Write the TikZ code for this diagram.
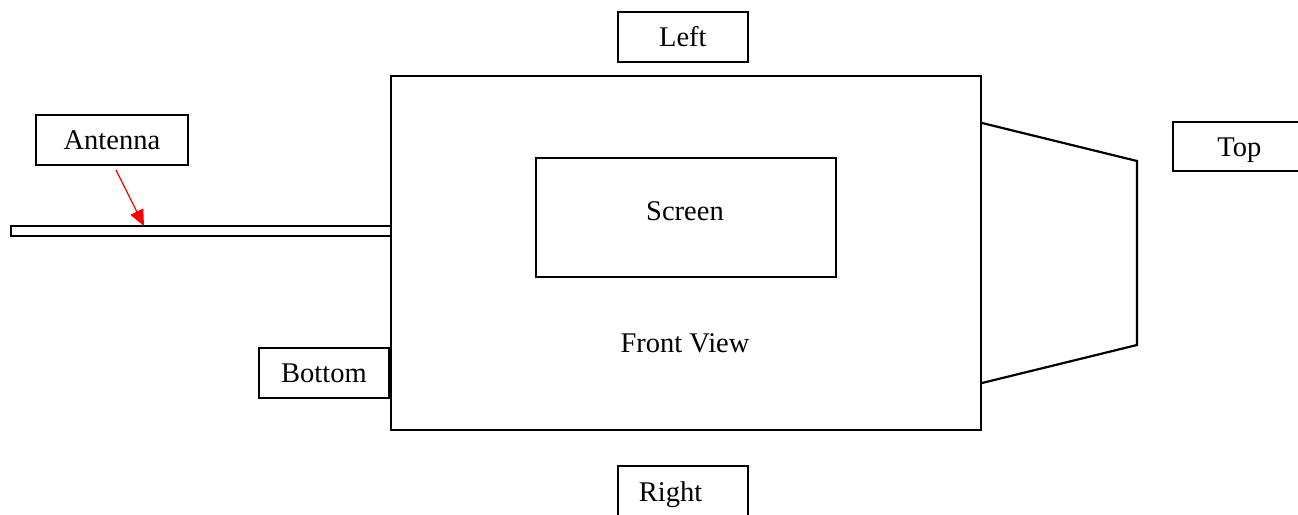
\documentclass[tikz,border=0pt]{standalone}
\usepackage{fontspec}
\setmainfont{Liberation Serif}
\usetikzlibrary{arrows.meta}
\begin{document}
\begin{tikzpicture}[x=1pt,y=-1pt,
  lbl/.style={draw=black, line width=1.8pt, fill=white, inner sep=0pt, text height=23pt, text depth=3pt, font=\fontsize{28.5}{34}\selectfont},
  outline/.style={draw=black, line width=2.2pt},
  txt/.style={inner sep=0pt, font=\fontsize{28.5}{34}\selectfont}]
\useasboundingbox (0,0) rectangle (1298,514);
% main body
\draw[outline] (391,76) rectangle (981,430);
\node[outline, minimum width=300pt, minimum height=119pt, inner sep=0pt, anchor=north west] (screen) at (535,157) {};
\node[txt] (screenlbl) at (685,211) {Screen};
\node[txt] (front) at (685,343) {Front View};
% side part
\draw[outline, line join=miter] (982,123) -- (1137,161) -- (1137,345) -- (982,383);
% antenna bar
\draw[outline] (11,226) rectangle (391,236);
\coordinate (tip) at (144,226);
% labels
\node[lbl, minimum width=130pt, minimum height=50pt, anchor=north west] (left) at (617,11) {Left};
\node[lbl, minimum width=152pt, minimum height=50pt, anchor=north west] (antenna) at (35,114) {Antenna};
\node[lbl, minimum width=130pt, minimum height=50pt, anchor=north west] (bottom) at (258,347) {Bottom};
\node[lbl, minimum width=133pt, minimum height=49pt, anchor=north west] (top) at (1172,121) {Top};
\node[lbl, anchor=north west, text width=88pt, align=left, inner xsep=21pt, minimum height=60pt, text height=19pt, text depth=7pt] (right) at (617,465) {Right};
% arrow
\draw[red, line width=1.2pt, -{Triangle[length=16pt,width=14pt]}] ([xshift=4pt,yshift=-4pt]antenna.south) -- (tip);
\end{tikzpicture}
\end{document}
